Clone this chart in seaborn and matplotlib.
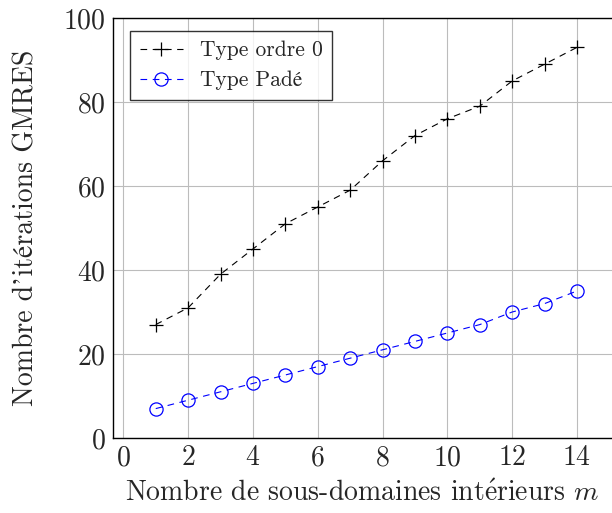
import matplotlib
matplotlib.use("Agg")
import matplotlib.pyplot as plt
import pandas as pd
import seaborn as sns

m = list(range(1, 15))
ordre0 = [27, 31, 39, 45, 51, 55, 59, 66, 72, 76, 79, 85, 89, 93]
pade = [7, 9, 11, 13, 15, 17, 19, 21, 23, 25, 27, 30, 32, 35]

sns.set_style("whitegrid")
plt.rcParams["font.family"] = ["cmr10", "STIXGeneral"]
plt.rcParams["mathtext.fontset"] = "cm"
plt.rcParams["axes.formatter.use_mathtext"] = True

fig = plt.figure(figsize=(6.12, 5.13), dpi=100)
ax = fig.add_axes([0.1846, 0.1462, 0.8154, 0.8188])

df = pd.DataFrame({"m": m, "ordre0": ordre0, "pade": pade})
sns.lineplot(data=df, x="m", y="ordre0", ax=ax, color="black", marker="+",
             markersize=10, markeredgecolor="black", markeredgewidth=0.9,
             linewidth=0.8, label="Type ordre 0")
sns.lineplot(data=df, x="m", y="pade", ax=ax, color="blue", marker="o",
             markersize=9.5, markerfacecolor="none", markeredgecolor="blue",
             markeredgewidth=0.9, linewidth=0.8, label="Type Padé")
for line in ax.lines:
    line.set_dashes((6, 5))

ax.set_xlim(-0.32, 15.08)
ax.set_ylim(0, 100)
ax.set_xticks(range(0, 15, 2))
ax.set_yticks(range(0, 101, 20))
ax.grid(True, color="#bcbcbc", linewidth=0.8)
ax.tick_params(axis="both", labelsize=20, direction="in", length=4,
               color="#888888", pad=5)
for s in ["left", "bottom", "top"]:
    ax.spines[s].set_color("black")
    ax.spines[s].set_linewidth(1.0)
ax.spines["right"].set_visible(False)

ax.set_xlabel(r"Nombre de sous-domaines int$\acute{\mathrm{e}}$rieurs $m$",
              fontsize=20, labelpad=6)
ax.set_ylabel("Nombre d’itérations GMRES", fontsize=20, labelpad=17)

leg = ax.legend(loc="upper left", fontsize=15.5, frameon=True, fancybox=False,
                edgecolor="black", borderpad=0.45, handlelength=2.0,
                handletextpad=0.8, labelspacing=0.5, borderaxespad=0,
                bbox_to_anchor=(0.034, 0.969))
leg.get_frame().set_linewidth(1.0)

fig.savefig("out.png", dpi=100)
